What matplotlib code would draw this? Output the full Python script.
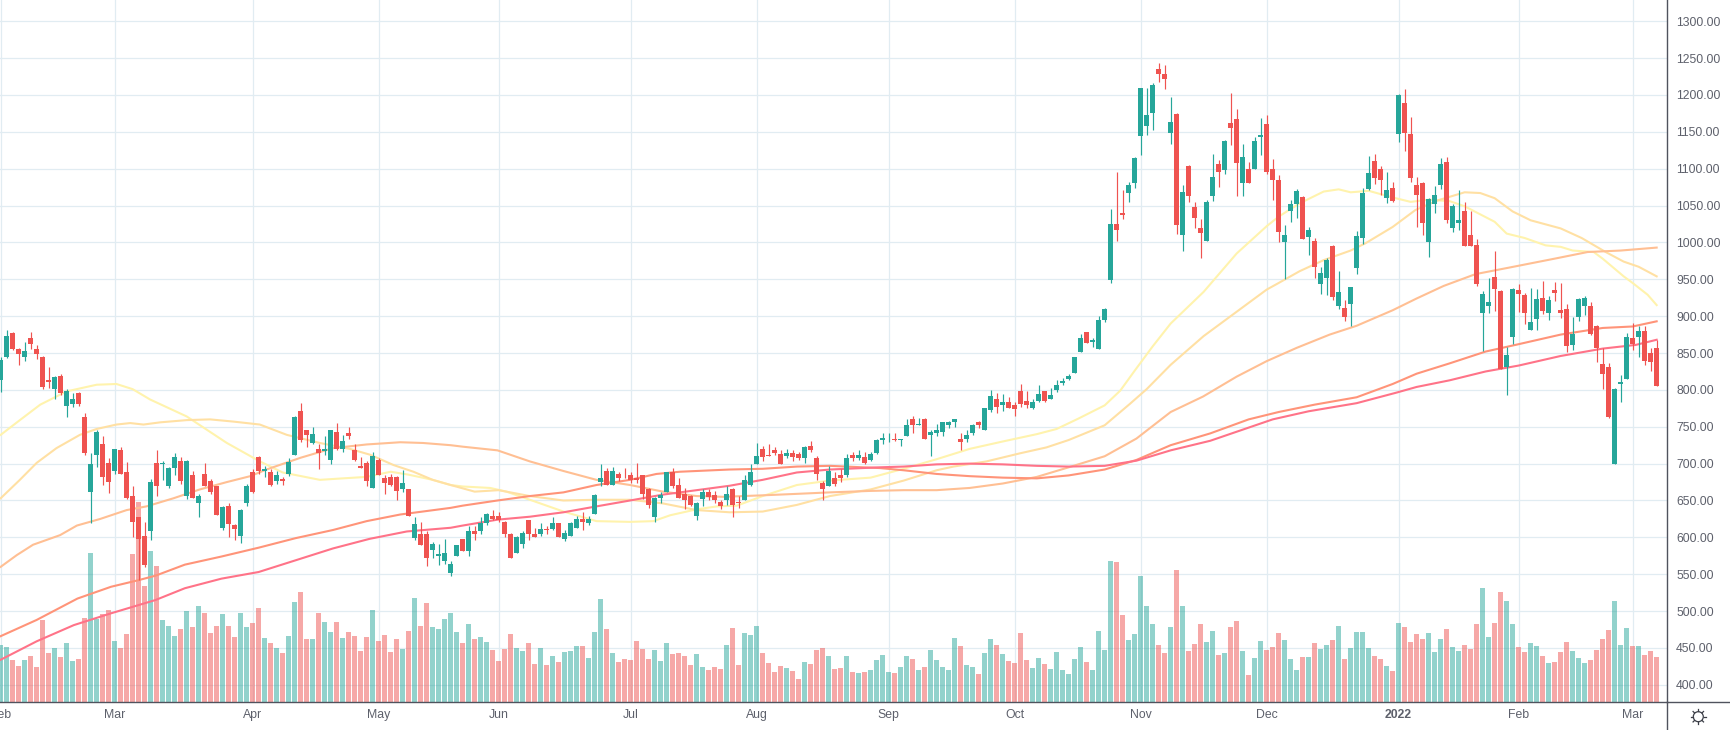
#plotting
import numpy as np
import matplotlib
matplotlib.use('Agg')
import matplotlib.pyplot as plt
import matplotlib.patches as mpatches
import matplotlib.transforms as mtrans
from matplotlib.lines import Line2D

plt.rcParams['font.family'] = ['Liberation Sans', 'DejaVu Sans']

#daily candles
opens = [
814,844,877,856,845,871,856,845,814,801,
819,778,781,796,763,662,712,727,701,690,
719,689,656,628,602,608,701,700,670,694,
704,656,685,647,686,677,669,613,643,617,
602,647,689,709,690,688,677,679,686,712,
772,745,728,720,717,705,743,720,742,719,
697,701,667,705,681,682,682,666,666,599,
604,604,583,575,568,552,575,598,582,609,
608,620,629,629,621,604,579,591,624,604,
604,612,612,619,598,602,613,625,619,632,
675,690,671,686,681,685,681,684,666,628,
654,662,688,671,659,656,629,652,661,658,
648,651,665,648,650,671,700,720,712,718,
713,711,715,713,707,724,707,674,670,680,
684,685,712,707,709,705,715,732,733,734,
732,738,761,752,760,739,741,743,752,756,
734,734,742,756,745,773,788,780,783,780,
798,785,776,785,798,788,800,810,815,823,
852,879,865,856,895,949,1025,1040,1067,1081,
1145,1158,1176,1235,1229,1149,1174,1010,1104,1048,
1019,1002,1063,1107,1098,1162,1168,1080,1100,1100,
1143,1161,1100,1085,1001,1043,1052,1062,1008,1002,
944,952,995,914,911,917,965,1006,1073,1110,
1100,1060,1074,1147,1189,1147,1078,1081,1000,1052,
1078,1109,1020,1026,1043,1010,997,904,914,953,
934,831,872,936,929,881,896,925,904,936,
909,910,861,899,914,914,887,835,831,700,
808,815,871,872,880,850,857]
highs = [
844,881,879,857,865,879,861,846,831,819,
822,801,796,797,769,715,746,738,708,720,
723,702,670,628,621,679,719,704,696,715,
709,705,690,659,701,679,669,643,646,618,
639,673,693,710,697,693,690,682,707,764,
782,745,750,727,738,746,755,739,750,726,
709,704,716,707,685,686,683,692,666,628,
621,608,594,591,598,568,590,598,616,615,
628,633,637,635,622,606,602,608,624,613,
619,615,627,619,610,621,629,634,629,659,
699,694,696,689,694,689,701,685,667,655,
661,689,694,680,667,658,648,665,666,663,
650,670,667,656,685,699,728,724,726,722,
718,720,718,716,724,731,711,676,697,688,
693,713,716,719,716,716,734,741,742,741,
734,760,764,762,762,745,754,757,758,761,
742,745,754,758,775,800,796,795,791,783,
808,799,788,806,798,803,814,816,822,844,
876,879,871,900,911,1046,1096,1071,1082,1116,
1210,1210,1216,1244,1241,1197,1175,1078,1105,1055,
1032,1058,1120,1112,1139,1203,1181,1134,1109,1143,
1169,1173,1113,1092,1023,1058,1073,1063,1021,1006,
967,979,996,961,922,940,1016,1074,1117,1120,
1104,1096,1082,1201,1208,1170,1089,1082,1060,1077,
1115,1116,1052,1071,1055,1043,1005,934,952,988,
936,858,938,944,932,938,937,948,927,946,
945,917,899,924,927,919,888,857,837,802,
820,877,891,887,887,857,868]
lows = [
797,843,854,834,839,856,842,801,802,787,
793,763,777,778,712,620,696,671,660,686,
686,652,601,542,560,597,656,678,667,685,
673,652,653,627,670,659,631,610,601,597,
593,643,660,686,682,669,673,671,683,712,
730,723,726,693,712,700,719,716,734,704,
694,670,667,685,659,669,651,662,629,597,
589,561,572,563,564,548,575,581,575,597,
604,617,623,621,601,572,579,585,597,600,
602,604,610,600,595,602,613,610,617,632,
669,671,671,677,680,674,674,652,640,621,
646,662,667,654,639,643,623,642,651,646,
639,644,628,640,650,670,700,703,711,712,
699,707,703,705,701,716,678,650,670,669,
675,682,704,705,699,704,713,726,730,731,
724,738,741,752,734,710,737,738,748,750,
719,730,739,748,745,770,768,772,776,765,
777,776,774,784,783,787,797,807,814,823,
852,864,858,856,892,945,1002,1032,1055,1074,
1119,1146,1153,1218,1208,1134,1012,989,1055,1020,
979,1002,1056,1075,1093,1132,1063,1063,1081,1100,
1119,1093,1058,1001,951,1028,1033,1004,983,952,
930,929,922,910,893,887,957,998,1071,1079,
1064,1054,1055,1136,1124,1082,1021,1010,980,1040,
1072,1026,1014,1017,995,995,941,853,904,907,
828,793,862,906,890,881,881,903,895,921,
898,851,854,893,902,875,838,801,762,700,
784,815,854,845,834,826,805]
closes = [
841,873,855,849,853,862,849,804,811,818,
796,799,788,781,715,700,743,682,675,720,
686,654,621,598,563,675,669,701,694,709,
677,703,654,656,670,662,631,641,618,612,
637,669,662,690,693,671,685,677,702,763,
732,739,740,715,720,746,720,731,738,705,
694,677,711,685,674,671,663,674,629,618,
590,572,591,578,579,564,589,581,608,605,
620,632,625,624,605,572,601,606,604,600,
612,610,619,600,606,619,625,621,625,658,
681,671,690,681,680,678,678,659,644,654,
658,688,669,654,651,644,647,662,655,650,
643,659,644,647,678,689,711,709,711,715,
699,715,709,708,723,718,686,666,690,673,
680,708,708,712,701,713,732,735,734,732,
734,753,753,754,734,743,745,756,757,760,
729,739,752,753,775,792,777,783,776,774,
781,780,784,795,785,793,807,812,819,844,
871,864,867,895,910,1025,1017,1037,1078,1115,
1210,1173,1214,1229,1221,1164,1023,1069,1063,1033,
1013,1055,1089,1096,1138,1155,1108,1116,1081,1138,
1146,1095,1084,1014,1010,1052,1070,1004,1017,966,
959,976,926,933,899,940,1009,1067,1094,1087,
1085,1071,1056,1200,1148,1087,1064,1026,1059,1064,
1106,1030,1050,1030,995,995,944,930,919,937,
828,847,937,930,904,892,923,907,922,932,
904,860,876,923,925,876,857,822,763,801,
811,872,862,880,839,838,805]
#volume has no scale in the picture, arbitrary units
volumes = [
172,166,127,109,127,139,106,247,148,163,
136,178,124,130,253,448,250,265,277,184,
163,205,445,601,349,454,409,247,229,199,
220,274,226,289,268,208,229,265,229,196,
268,226,238,283,193,178,163,148,199,301,
331,190,190,268,241,211,241,193,211,199,
154,196,277,184,202,151,190,160,214,313,
229,298,226,220,250,268,211,178,235,190,
196,181,157,124,160,205,163,154,178,115,
163,112,139,121,151,154,169,169,133,211,
310,220,148,121,130,127,184,160,130,157,
124,178,145,148,139,112,145,106,97,106,
100,172,223,112,208,202,229,148,118,91,
109,103,94,70,121,115,157,163,139,100,
103,139,91,88,91,97,127,142,91,88,
106,139,130,97,106,157,127,106,97,193,
169,112,106,85,148,190,172,145,124,118,
208,127,103,133,115,100,151,97,85,130,
166,121,97,214,157,424,421,262,187,205,
379,289,235,172,148,226,397,289,154,175,
235,181,214,142,148,226,244,154,82,133,
184,157,166,208,187,130,97,136,136,178,
160,172,187,229,130,163,211,211,163,139,
130,109,94,238,226,181,205,190,208,151,
190,220,166,154,172,160,235,343,196,238,
331,304,235,166,151,178,169,139,118,121,
151,181,154,133,118,127,157,190,217,304,
172,223,169,169,142,154,136]

#moving averages, points (bar index, price)
ma1_idx = [0,3.2,6.6,11,16,19.3,22,24.9,31,37.7,43.2,47,53.2,57,61,65,68,72,75,77,81.6,84.3,88.2,93.8,99.3,104.9,108.8,111.6,116,119.4,122.7,127,132.7,138.2,145,150.5,156,161.5,167,172.7,176,179.6,184,186.6,189,192,195,200.5,206,211,213,216.5,220.5,223,225,228,232,235,238,241.5,244,249,251,254,257.5,260,262,265.5,267,270.5,272,274.5,276]
ma1_val = [739,759,780,798,807,808,801,787,764,728,703,688,678,680,682,689,685,678,671,669,667,662,651,635,622,621,622,630,638,642,643,656,671,677,681,693,706,720,730,740,747,761,779,799,826,859,890,933,985,1022,1035,1053,1069,1072,1068,1070,1061,1055,1058,1056,1049,1028,1012,1006,996,994,989,987,978,954,945,929,915]
ma2_idx = [0,3.2,6,9.3,13.2,16,19.3,21.6,23.8,26.6,31,34.9,38.8,43.2,47.7,53.2,58.2,61.6,65.5,68.8,72,75,79,83,88.2,93.8,99.3,104.9,110.4,116,121.5,127,132.7,138.2,145,150.5,156,158.8,164.3,169.9,174.3,178,184,188.2,191,195,200.5,206,211,213,216.5,220.5,225,227.5,232,235.8,239.5,244,246.6,249,252,255,260,263.5,267.5,270.5,273,276]
ma2_val = [653,678,701,721,739,747,753,755,753,756,759,760,757,753,739,728,720,712,698,689,678,671,662,664,656,650,651,651,646,637,634,635,644,656,665,677,691,696,703,714,722,732,752,781,801,834,873,906,936,945,961,976,989,999,1021,1044,1057,1068,1067,1060,1042,1030,1019,1006,987,974,967,954]
ma3_idx = [0,2.7,5.4,9.9,12.7,16.6,21,24.3,28.8,33.2,37.7,41.6,44.3,50,55.4,61,66.6,70.4,75,77,82.8,88.2,93.8,99.3,104.9,110.4,116,120.4,127,132.7,138.2,145,150.5,156,161.5,167,172.7,178,184,189.3,195,200.4,206,211,216,221.5,226,232,236,240.5,245.8,251.5,259,264.5,270,276]
ma3_val = [560,576,590,603,616,625,637,642,653,665,675,683,692,708,721,726,729,728,725,723,718,703,690,678,671,662,656,655,657,659,661,663,664,664,667,673,682,695,710,734,770,791,818,839,857,875,887,908,924,941,957,966,978,987,989,993]
ma4_idx = [0,6,12.8,18.4,23,25.8,30.7,36.8,43,49.2,55.4,61,66.6,75,77,82.8,88.2,93.8,99.3,104.9,109.3,113.2,121.5,127,132.7,138.2,146.5,150.5,156,161.5,167,172.7,178,184,189.3,195,201.6,208,213,219,226,232,236,241.5,247.5,253,260,267,272,276]
ma4_val = [466,488,517,533,542,548,563,574,586,599,610,622,631,640,643,650,656,661,671,678,686,689,692,693,696,697,694,691,686,683,681,680,684,692,705,725,741,760,770,780,790,808,822,836,852,862,875,884,886,893]
ma5_idx = [0,6,12.2,18.4,25.8,30.7,36.8,43,49.2,55.4,61.5,67.7,75,77,82.8,88.2,93.8,99.3,104.9,110.4,116,121.5,127,132.7,138.2,146.5,150.5,156,161.5,167,172.7,178,184,189.3,195,201.6,212,218,226,232.5,236,241.5,247.5,253,260,267,272.5,276]
ma5_val = [434,459,481,497,515,531,544,553,569,585,598,608,613,616,624,628,634,642,650,658,664,670,678,688,692,695,696,699,700,699,697,696,697,704,718,731,760,771,782,796,804,813,825,833,846,856,861,868]

#axis labels
tick_idx = [0,19,42,63,83,105,126,148,169,190,211,233,253,272]
tick_labels = ['Feb','Mar','Apr','May','Jun','Jul','Aug','Sep','Oct','Nov','Dec','2022','Feb','Mar']
price_ticks = np.arange(400,1301,50)

upCol = '#26a69a'
downCol = '#ef5350'
gridCol = '#e1ecf2'
axisCol = '#50535e'
textCol = '#5d606b'
W, H = 1730, 730
paneW, paneH = 1666.5, 702.

o = np.array(opens, float)
h = np.array(highs, float)
l = np.array(lows, float)
c = np.array(closes, float)
x = np.arange(len(o))
up = c >= o
cols = [upCol if u else downCol for u in up]

fig = plt.figure(figsize=(W/100., H/100.), dpi=100)
fig.patch.set_facecolor('white')
ax = fig.add_axes([0, (H-paneH)/H, paneW/W, paneH/H])
ax.set_xlim(-0.11, 277.64)
ax.set_ylim(376.7, 1328.8)

#volume sits at the bottom of the pane, fraction of pane height
volTrans = mtrans.blended_transform_factory(ax.transData, ax.transAxes)
ax.bar(x, np.array(volumes)/(paneH*3), width=0.83, color=cols, alpha=0.5,
       linewidth=0, transform=volTrans, zorder=1)

for idx, val, col in [(ma1_idx, ma1_val, '#fff3ad'),
                      (ma2_idx, ma2_val, '#ffe0a3'),
                      (ma3_idx, ma3_val, '#ffbf93'),
                      (ma4_idx, ma4_val, '#ff9479'),
                      (ma5_idx, ma5_val, '#ff7388')]:
  ax.plot(idx, val, color=col, lw=1.5, zorder=2, solid_joinstyle='round')

ax.vlines(x, l, h, colors=cols, lw=0.85, zorder=3)
ax.bar(x, np.abs(c-o), bottom=np.minimum(o,c), width=0.83, color=cols, linewidth=0, zorder=4)

ax.set_xticks(tick_idx)
ax.set_xticklabels(tick_labels, fontsize=8.8, color=textCol)
ax.get_xticklabels()[11].set_fontweight('bold')
ax.set_yticks(price_ticks)
ax.set_yticklabels(['%.2f' % p for p in price_ticks], fontsize=8.8, color=textCol)
ax.yaxis.tick_right()
ax.tick_params(axis='x', length=0, pad=5)
ax.tick_params(axis='y', length=0, pad=7)
ax.grid(True, color=gridCol, lw=0.9)
ax.set_axisbelow(True)
for side in ['top','left']:
  ax.spines[side].set_visible(False)
for side in ['right','bottom']:
  ax.spines[side].set_color(axisCol)
  ax.spines[side].set_linewidth(1.0)

#axis lines carry on into the corner
fig.add_artist(Line2D([paneW/W, paneW/W], [0, (H-paneH)/H], color=axisCol, lw=1.0))
fig.add_artist(Line2D([paneW/W, 1], [(H-paneH)/H, (H-paneH)/H], color=axisCol, lw=1.0))

#settings gear in the corner
gx, gy = 1698.3, H-716.7
pix = mtrans.IdentityTransform()
fig.add_artist(mpatches.Circle((gx, gy), 5.0, transform=pix, fill=False, ec='#3b3e47', lw=0.9))
for a in np.arange(8)*np.pi/4:
  fig.add_artist(Line2D([gx+5.4*np.cos(a), gx+7.4*np.cos(a)], [gy+5.4*np.sin(a), gy+7.4*np.sin(a)],
                        transform=pix, color='#3b3e47', lw=0.9))

fig.savefig('out.png', dpi=100)
